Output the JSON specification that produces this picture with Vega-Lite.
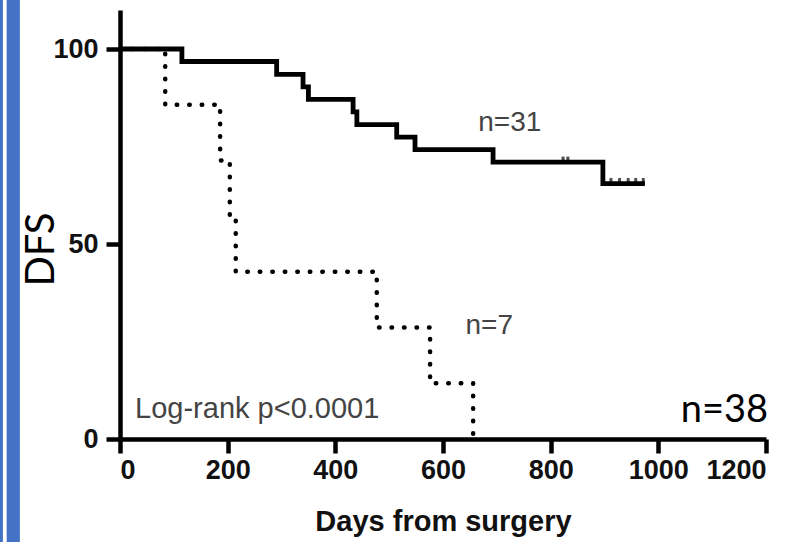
{
  "$schema": "https://vega.github.io/schema/vega-lite/v6.json",
  "autosize": "none",
  "padding": {"left": 120, "top": 10, "right": 37, "bottom": 103},
  "width": 646,
  "height": 429,
  "background": "white",
  "config": {
    "view": {"stroke": null},
    "axis": {"grid": false, "domainColor": "black", "domainWidth": 4.5, "tickColor": "black", "tickWidth": 4.5, "tickSize": 14, "labelFont": "Liberation Sans", "labelFontWeight": "bold", "labelFontSize": 27, "labelColor": "#111"}
  },
  "datasets": {
    "curves": [
      {"group": "n=31", "day": 0, "dfs": 100},
      {"group": "n=31", "day": 115, "dfs": 96.8},
      {"group": "n=31", "day": 291, "dfs": 93.5},
      {"group": "n=31", "day": 340, "dfs": 90.3},
      {"group": "n=31", "day": 350, "dfs": 87.1},
      {"group": "n=31", "day": 433, "dfs": 83.9},
      {"group": "n=31", "day": 440, "dfs": 80.6},
      {"group": "n=31", "day": 514, "dfs": 77.4},
      {"group": "n=31", "day": 548, "dfs": 74.2},
      {"group": "n=31", "day": 693, "dfs": 71.0},
      {"group": "n=31", "day": 897, "dfs": 65.5},
      {"group": "n=31", "day": 975, "dfs": 65.5},
      {"group": "n=7", "day": 0, "dfs": 100},
      {"group": "n=7", "day": 84, "dfs": 85.7},
      {"group": "n=7", "day": 186, "dfs": 71.4},
      {"group": "n=7", "day": 204, "dfs": 57.1},
      {"group": "n=7", "day": 215, "dfs": 42.9},
      {"group": "n=7", "day": 477, "dfs": 28.6},
      {"group": "n=7", "day": 576, "dfs": 14.3},
      {"group": "n=7", "day": 656, "dfs": 0}
    ],
    "censored": [
      {"day": 823, "dfs": 71.0},
      {"day": 832, "dfs": 71.0},
      {"day": 912, "dfs": 65.5},
      {"day": 928, "dfs": 65.5},
      {"day": 944, "dfs": 65.5},
      {"day": 958, "dfs": 65.5},
      {"day": 972, "dfs": 65.5}
    ],
    "one": [{}]
  },
  "layer": [
    {
      "data": {"name": "one"},
      "mark": {"type": "rect", "color": "#4472C4"},
      "encoding": {"x": {"datum": -223}, "x2": {"datum": -186}, "y": {"datum": -30}, "y2": {"datum": 140}}
    },
    {
      "data": {"name": "one"},
      "mark": {"type": "rect", "color": "#ffffff"},
      "encoding": {"x": {"datum": -217.5}, "x2": {"datum": -210.5}, "y": {"datum": -30}, "y2": {"datum": 140}}
    },
    {
      "data": {"name": "curves"},
      "transform": [{"filter": "datum.group === 'n=31'"}],
      "mark": {"type": "line", "interpolate": "step-after", "color": "black", "strokeWidth": 4.8, "strokeJoin": "miter", "strokeCap": "butt"},
      "encoding": {
        "x": {"field": "day", "type": "quantitative", "scale": {"domain": [0, 1200], "nice": false}, "axis": {"values": [0, 200, 400, 600, 800, 1000, 1200], "format": "d", "title": "Days from surgery", "titleFont": "Liberation Sans", "titleFontWeight": "bold", "titleFontSize": 29, "titleColor": "#111", "titleBaseline": "alphabetic", "titleY": 91, "labelPadding": 4}},
        "y": {"field": "dfs", "type": "quantitative", "scale": {"domain": [0, 110], "nice": false}, "axis": {"values": [0, 50, 100], "format": "d", "title": "DFS", "titleFont": "Lato", "titleFontWeight": "normal", "titleFontSize": 40, "titleColor": "black", "titleAngle": -90, "titleAlign": "center", "titleBaseline": "alphabetic", "titleX": -67, "titleY": 239, "labelPadding": 8}}
      }
    },
    {
      "data": {"name": "curves"},
      "transform": [{"filter": "datum.group === 'n=7'"}],
      "mark": {"type": "line", "interpolate": "step-after", "color": "black", "strokeWidth": 4.5, "strokeCap": "round", "strokeDash": [0.5, 12]},
      "encoding": {
        "x": {"field": "day", "type": "quantitative"},
        "y": {"field": "dfs", "type": "quantitative"}
      }
    },
    {
      "data": {"name": "censored"},
      "mark": {"type": "tick", "orient": "vertical", "color": "black", "size": 7, "thickness": 3, "yOffset": -2},
      "encoding": {
        "x": {"field": "day", "type": "quantitative"},
        "y": {"field": "dfs", "type": "quantitative"}
      }
    },
    {
      "data": {"name": "one"},
      "mark": {"type": "text", "text": "n=31", "font": "Liberation Sans", "fontSize": 28, "color": "#444", "align": "center", "baseline": "alphabetic"},
      "encoding": {"x": {"datum": 724}, "y": {"datum": 79}}
    },
    {
      "data": {"name": "one"},
      "mark": {"type": "text", "text": "n=7", "font": "Liberation Sans", "fontSize": 28, "color": "#444", "align": "center", "baseline": "alphabetic"},
      "encoding": {"x": {"datum": 686}, "y": {"datum": 27}}
    },
    {
      "data": {"name": "one"},
      "mark": {"type": "text", "text": "Log-rank p<0.0001", "font": "Liberation Sans", "fontSize": 29, "color": "#444", "align": "left", "baseline": "alphabetic"},
      "encoding": {"x": {"datum": 28}, "y": {"datum": 5.4}}
    },
    {
      "data": {"name": "one"},
      "mark": {"type": "text", "text": "n=38", "font": "Lato", "fontSize": 38, "color": "black", "align": "right", "baseline": "alphabetic"},
      "encoding": {"x": {"datum": 1204}, "y": {"datum": 4.3}}
    }
  ]
}
